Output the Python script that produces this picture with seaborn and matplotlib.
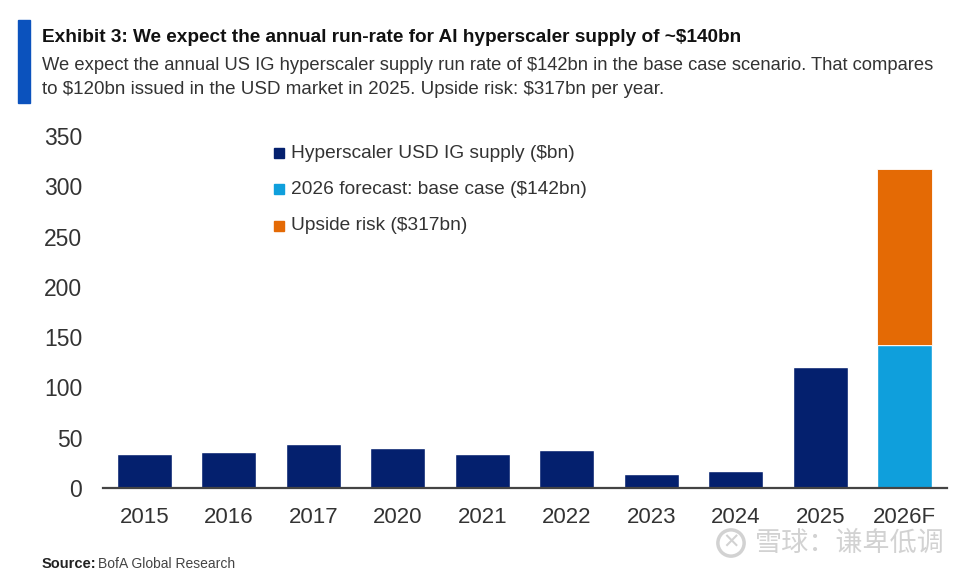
import matplotlib
matplotlib.use("Agg")
import matplotlib.pyplot as plt
from matplotlib.patches import Rectangle
import pandas as pd
import seaborn as sns

years = ["2015", "2016", "2017", "2020", "2021", "2022", "2023", "2024", "2025", "2026F"]
supply = [34, 36, 44, 40, 34, 38, 14, 17, 120, 142]
upside_total = 317
base_case = 142

title = r"Exhibit 3: We expect the annual run-rate for AI hyperscaler supply of ~\$140bn"
sub_1 = r"We expect the annual US IG hyperscaler supply run rate of \$142bn in the base case scenario. That compares"
sub_2 = r"to \$120bn issued in the USD market in 2025. Upside risk: \$317bn per year."
legend_labels = [r"Hyperscaler USD IG supply (\$bn)", r"2026 forecast: base case (\$142bn)", r"Upside risk (\$317bn)"]

navy = "#04206e"
sky = "#0f9fdc"
orange = "#e46a05"
W, H = 975, 571

sns.set_theme(style="white")
plt.rcParams["font.family"] = ["Liberation Sans", "DejaVu Sans"]

fig = plt.figure(figsize=(W / 100, H / 100), dpi=100, facecolor="white")
ax = fig.add_axes([103 / W, 1 - 488 / H, (947 - 103) / W, (488 - 136) / H])

df = pd.DataFrame({"year": years, "value": supply})
df["kind"] = [legend_labels[0]] * 9 + [legend_labels[1]]

# base layer, the last bar is the forecast
sns.barplot(data=df, x="year", y="value", hue="kind", dodge=False, width=0.65,
            palette=[navy, sky], legend=False, ax=ax, saturation=1)
# upside sits on top of base case
sns.barplot(x=[years[-1]], y=[upside_total - base_case], bottom=base_case, color=orange,
            width=0.65, ax=ax, saturation=1, order=years, edgecolor="white", linewidth=0.6)

ax.set_xlim(-0.49, 9.5)
ax.set_ylim(0, 350)
ax.set_yticks(range(0, 351, 50))
ax.set_xlabel("")
ax.set_ylabel("")
ax.tick_params(axis="y", labelsize=16.5, colors="#333333", length=0, pad=15)
ax.tick_params(axis="x", labelsize=16, colors="#333333", length=0, pad=14)
for s in ["top", "right", "left"]:
    ax.spines[s].set_visible(False)
ax.spines["bottom"].set_color("#444444")
ax.spines["bottom"].set_linewidth(1.6)

# header bar and texts, figure coords in pixels
fig.add_artist(Rectangle((18 / W, 1 - 103 / H), 12 / W, 83 / H, color="#0b52bd", transform=fig.transFigure))
fig.text(42 / W, 1 - 37 / H, title, fontsize=13.7, fontweight="bold", color="#111111", va="center")
fig.text(42 / W, 1 - 65 / H, sub_1, fontsize=13.2, color="#333333", va="center")
fig.text(42 / W, 1 - 89 / H, sub_2, fontsize=13.5, color="#333333", va="center")

# legend by hand, tight squares
for y, lab, c in zip([153, 189, 226], legend_labels, [navy, sky, orange]):
    fig.add_artist(Rectangle((274 / W, 1 - (y + 5) / H), 10 / W, 10 / H, color=c, transform=fig.transFigure))
    fig.text(291 / W, 1 - y / H, lab, fontsize=13.8, color="#333333", va="center")

fig.text(42 / W, 1 - 564 / H, "Source:", fontsize=10.5, fontweight="bold", color="#222222", va="center")
fig.text(98 / W, 1 - 564 / H, "BofA Global Research", fontsize=10, color="#444444", va="center")

# watermark
wm = "#d2d2d2"
fig.text(731 / W, 1 - 543 / H, "\u2715", fontsize=15, color=wm, ha="center", va="center",
         family=["DejaVu Sans"],
         bbox=dict(boxstyle="circle,pad=0.15", fc="none", ec=wm, lw=2.5))
fig.text(755 / W, 1 - 543 / H, "\u96ea\u7403\uff1a\u8c26\u5351\u4f4e\u8c03", fontsize=19.5, color=wm, va="center",
         family=["Noto Sans CJK SC", "DejaVu Sans"])

fig.savefig("out.png", dpi=100)
